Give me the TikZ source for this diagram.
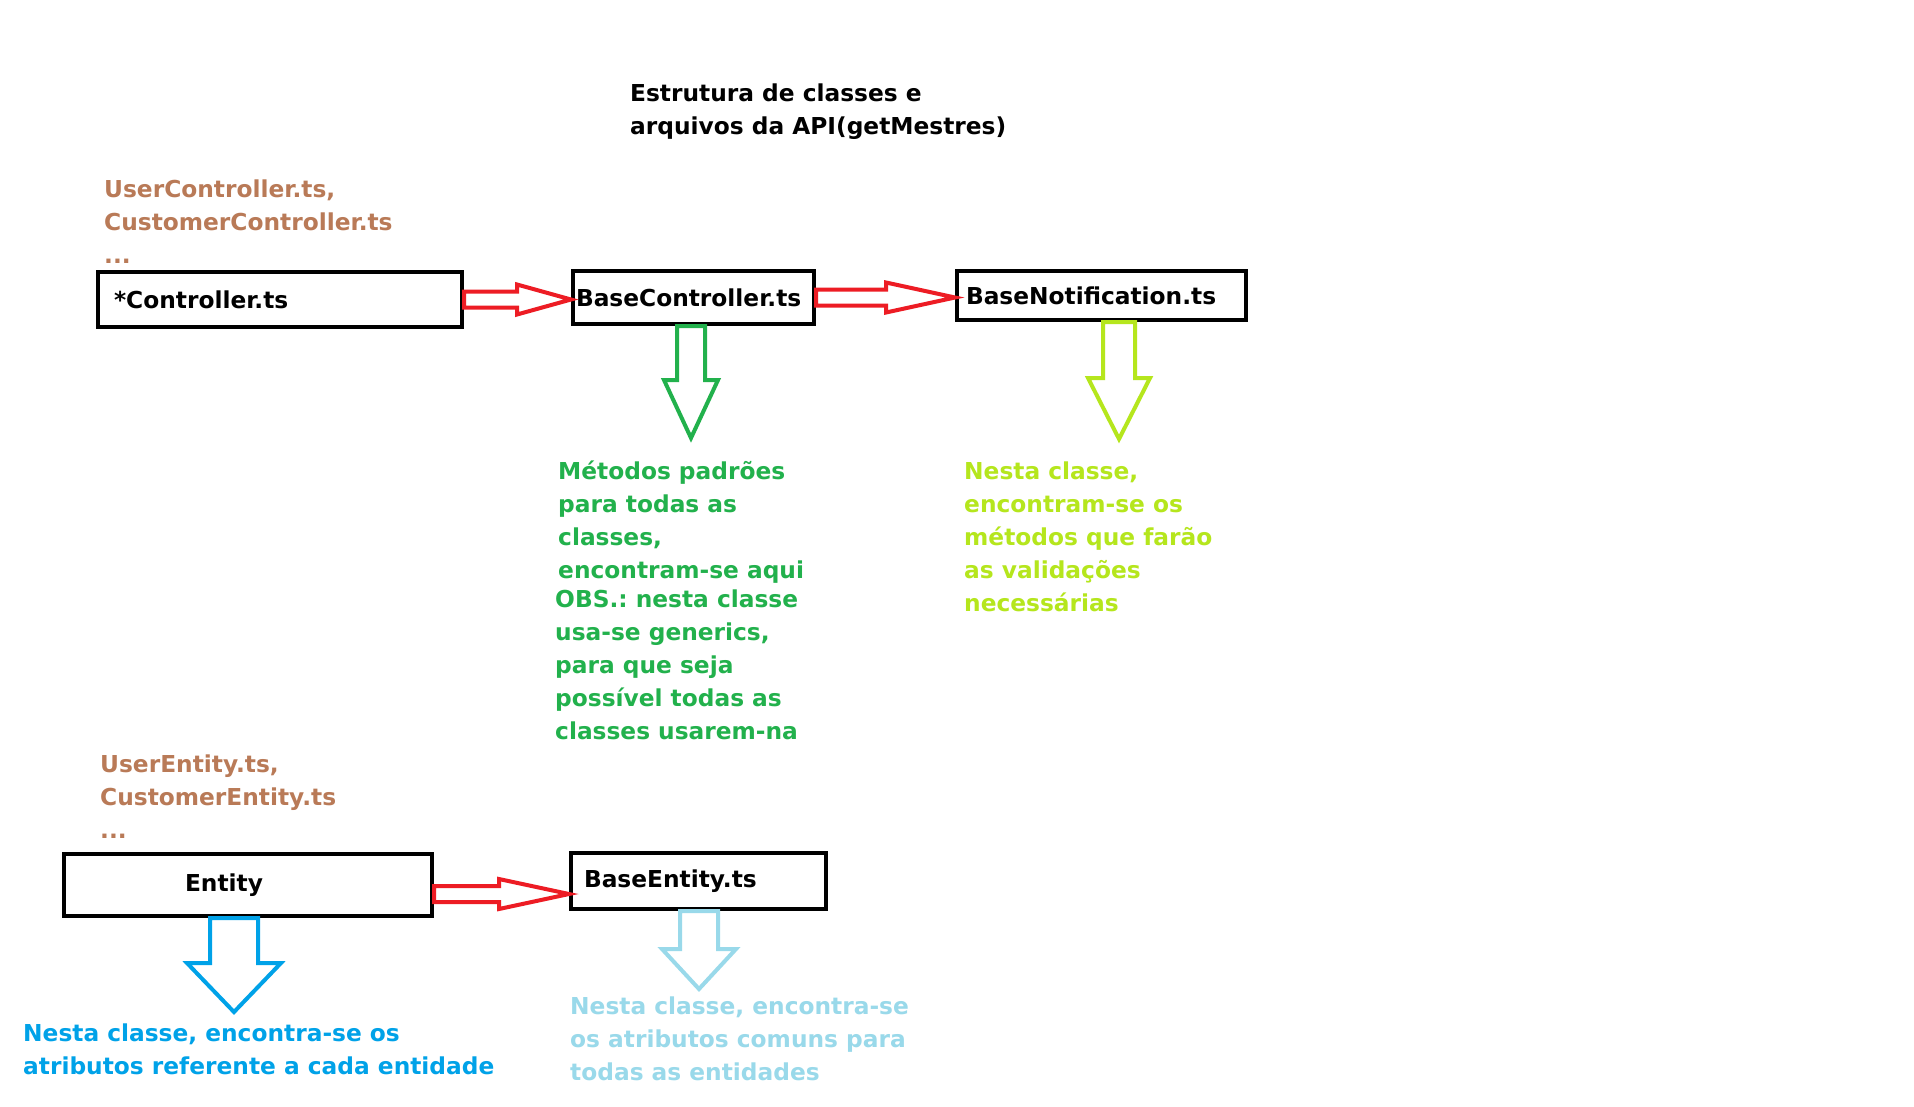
\documentclass[tikz,border=0pt]{standalone}
\usepackage{fontspec}
\setmainfont{DejaVu Sans}
\usetikzlibrary{calc}
\frenchspacing

\definecolor{filebrown}{HTML}{B97A57}
\definecolor{arrowred}{HTML}{ED1C24}
\definecolor{basegreen}{HTML}{22B14C}
\definecolor{notiflime}{HTML}{B5E61D}
\definecolor{entblue}{HTML}{00A2E8}
\definecolor{entlight}{HTML}{99D9EA}

% block arrows: tail, tip, head length
\newcommand{\hblock}[3]{%
  \draw[redarrow] let \p1=#1, \p2=#2 in
    (\x1,\y1-8pt) -- (\x2-#3pt,\y1-8pt) -- (\x2-#3pt,\y1-15pt) -- (\x2,\y1)
    -- (\x2-#3pt,\y1+15pt) -- (\x2-#3pt,\y1+8pt) -- (\x1,\y1+8pt) -- cycle;}
% tail, tip, shaft half, head half, head length, colour
\newcommand{\vblock}[6]{%
  \draw[downarrow=#6] let \p1=#1, \p2=#2 in
    (\x1-#3pt,\y1) -- (\x1-#3pt,\y2+#5pt) -- (\x1-#4pt,\y2+#5pt) -- (\x1,\y2)
    -- (\x1+#4pt,\y2+#5pt) -- (\x1+#3pt,\y2+#5pt) -- (\x1+#3pt,\y1) -- cycle;}

\tikzset{
  txt/.style={anchor=base west, inner sep=0pt, align=left,
    font=\fontsize{23.3}{33}\selectfont\bfseries},
  filebox/.style={draw, line width=4pt, anchor=north west, inner ysep=0pt,
    align=left, font=\fontsize{23.3}{33}\selectfont\bfseries},
  redarrow/.style={draw=arrowred, line width=4pt},
  downarrow/.style={draw=#1, line width=4pt}
}

\begin{document}
\begin{tikzpicture}[x=1pt,y=-1pt]
  \useasboundingbox[fill=white] (0,0) rectangle (1914,1106);

  % text nodes sit on the baseline of their last line
  \node[txt] (title) at (630,134) {Estrutura de classes e\\arquivos da API(getMestres)};

  % controllers
  \node[txt, text=filebrown] (ctrlfiles) at (104,263) {UserController.ts,\\CustomerController.ts\\...};
  \node[filebox, text width=332pt, inner xsep=16pt, minimum height=55pt] (ctrl) at (96,270) {*Controller.ts};
  \node[filebox, text width=235pt, inner xsep=3pt, minimum height=53pt] (basectrl) at (571,269) {BaseController.ts};
  \node[filebox, text width=271pt, inner xsep=9pt, minimum height=49pt] (notif) at (955,269) {BaseNotification.ts};

  \hblock{(ctrl.east)}{(basectrl.west)}{54}
  \hblock{(basectrl.east)}{(notif.west)}{69}

  \coordinate (gtip) at (691,438);
  \coordinate (ltip) at (1119,439);
  \vblock{(gtip |- basectrl.south)}{(gtip)}{14}{27}{58}{basegreen}
  \vblock{(ltip |- notif.south)}{(ltip)}{16}{31}{61}{notiflime}

  \node[txt, text=basegreen] (basetxt) at (558,578) {Métodos padrões\\para todas as\\classes,\\encontram-se aqui};
  \node[txt, text=basegreen] (obstxt) at (555,739) {OBS.: nesta classe\\usa-se generics,\\para que seja\\possível todas as\\classes usarem-na};
  \node[txt, text=notiflime] (notiftxt) at (964,611) {Nesta classe,\\encontram-se os\\métodos que farão\\as validações\\necessárias};

  % entities
  \node[txt, text=filebrown] (entfiles) at (100,838) {UserEntity.ts,\\CustomerEntity.ts\\...};
  \node[filebox, text width=126pt, inner xsep=121pt, minimum height=62pt] (entity) at (62,852) {Entity};
  \node[filebox, text width=229pt, inner xsep=13pt, minimum height=56pt] (baseent) at (569,851) {BaseEntity.ts};

  \hblock{($(entity.east)+(0,9)$)}{(baseent.west)}{70}

  \coordinate (btip) at (234,1012);
  \coordinate (lbtip) at (699,989);
  \vblock{(btip |- entity.south)}{(btip)}{24}{47}{49}{entblue}
  \vblock{(lbtip |- baseent.south)}{(lbtip)}{19}{37}{40}{entlight}

  \node[txt, text=entblue] (enttxt) at (23,1074) {Nesta classe, encontra-se os\\atributos referente a cada entidade};
  \node[txt, text=entlight] (baseenttxt) at (570,1080) {Nesta classe, encontra-se\\os atributos comuns para\\todas as entidades};
\end{tikzpicture}
\end{document}
